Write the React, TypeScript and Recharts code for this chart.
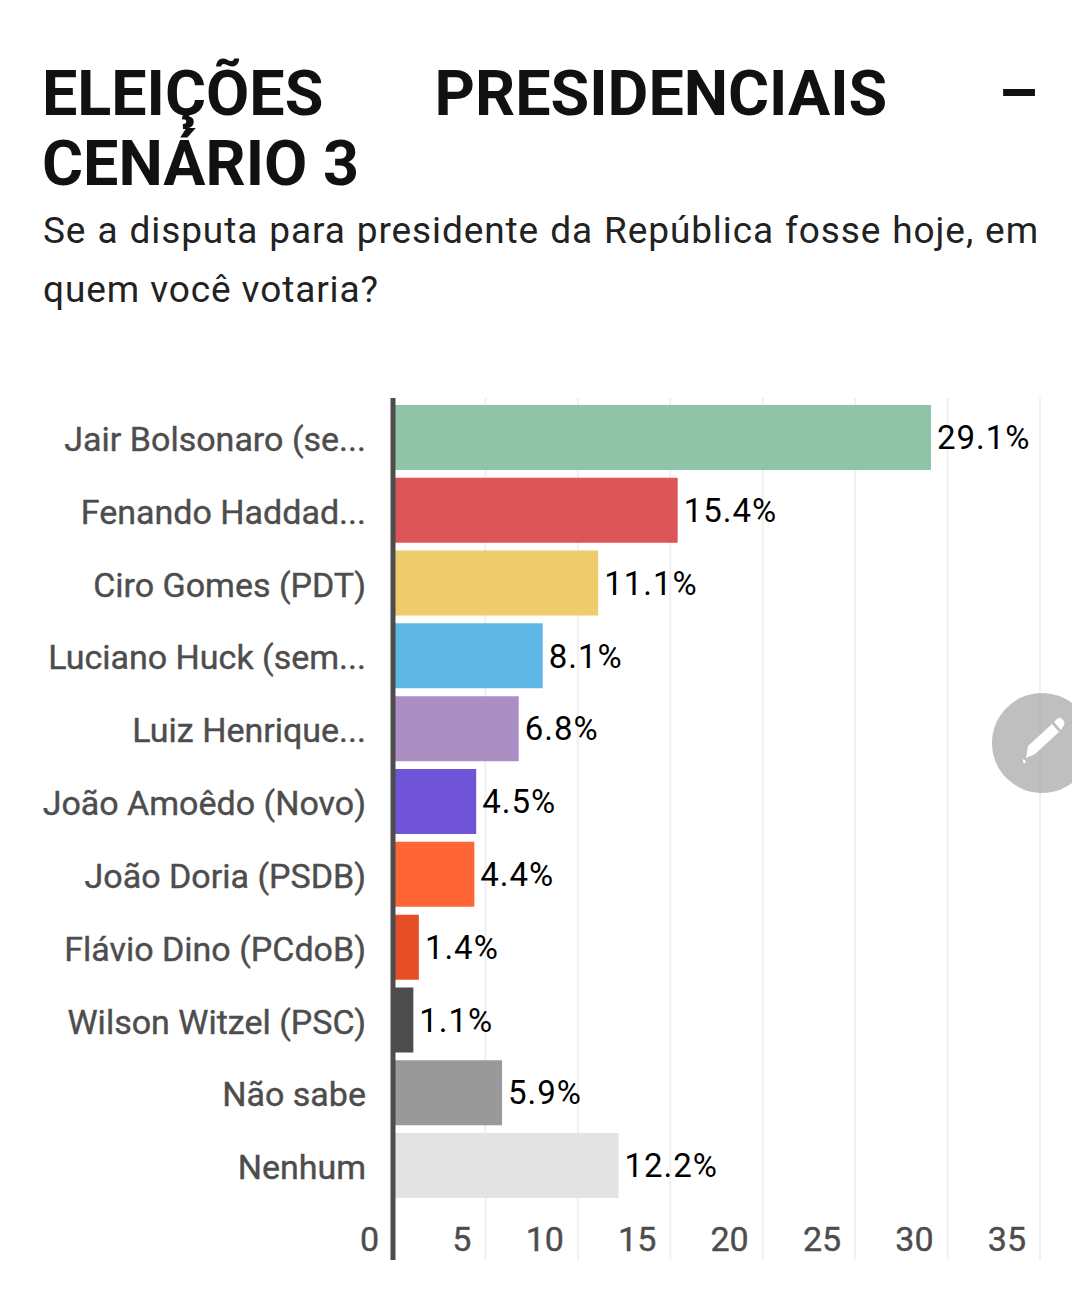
import { BarChart, Bar, XAxis, YAxis, CartesianGrid, Cell, LabelList, ReferenceLine } from 'recharts';

const categories = [
  'Jair Bolsonaro (se...',
  'Fenando Haddad...',
  'Ciro Gomes (PDT)',
  'Luciano Huck (sem...',
  'Luiz Henrique...',
  'João Amoêdo (Novo)',
  'João Doria (PSDB)',
  'Flávio Dino (PCdoB)',
  'Wilson Witzel (PSC)',
  'Não sabe',
  'Nenhum',
];
const values = [29.1, 15.4, 11.1, 8.1, 6.8, 4.5, 4.4, 1.4, 1.1, 5.9, 12.2];
const colors = ['#8fc4a8', '#dc5558', '#eecb6b', '#5fb7e5', '#ab8fc4', '#6f54d8', '#ff6535', '#e64f25', '#4d4d4d', '#999999', '#e3e3e3'];
const xTicks = [0, 5, 10, 15, 20, 25, 30, 35];

const data = categories.map((name, i) => ({ name, value: values[i] }));
const font = 'Roboto, sans-serif';

// tick labels sit left of their gridline, inside the plot
function XTick({ x, y, payload }: any) {
  return (
    <text x={x - 14} y={y - 9} textAnchor="end" fill="#4d4d4d" stroke="#4d4d4d" strokeWidth={0.4} fontSize={34} fontFamily={font}>
      {payload.value}
    </text>
  );
}

export default function App() {
  return (
    <div style={{ position: 'relative', width: 1072, height: 1310, background: '#fff', fontFamily: font, overflow: 'hidden' }}>
      <style>{'body { margin: 0; }'}</style>
      <div style={{ position: 'absolute', left: 42, top: 59, width: 996, fontSize: 62.8, lineHeight: '70px', fontWeight: 700, color: '#111', textAlign: 'justify' }}>
        ELEIÇÕES PRESIDENCIAIS – CENÁRIO 3
      </div>
      <div style={{ position: 'absolute', left: 43, top: 201, width: 996, fontSize: 37, lineHeight: '59px', color: '#222', letterSpacing: 0.9, textAlign: 'justify' }}>
        Se a disputa para presidente da República fosse hoje, em quem você votaria?
      </div>
      <div style={{ position: 'absolute', left: 0, top: 390 }}>
        <BarChart width={1072} height={890} data={data} layout="vertical" margin={{ top: 8, right: 32, bottom: 0, left: 0 }} barCategoryGap={3.9}>
          <CartesianGrid horizontal={false} stroke="#f0f0f0" strokeWidth={2} />
          <XAxis type="number" domain={[0, 35]} ticks={xTicks} height={20} axisLine={false} tickLine={false} tickMargin={0} tickSize={0} tick={<XTick />} interval={0} />
          <YAxis type="category" dataKey="name" width={393} axisLine={false} tickLine={false} interval={0} padding={{ top: 3, bottom: 58 }}
            tick={{ fill: '#4d4d4d', stroke: '#4d4d4d', strokeWidth: 0.4, fontSize: 34, fontFamily: font, dy: 1.5 }} tickMargin={21} />
          <Bar dataKey="value" isAnimationActive={false}>
            {data.map((d, i) => <Cell key={d.name} fill={colors[i]} />)}
            <LabelList dataKey="value" position="right" offset={6} formatter={(v: number) => `${v}%`}
              style={{ fill: '#000', fontSize: 33, fontFamily: font, letterSpacing: 1 }} />
          </Bar>
          <ReferenceLine x={0} stroke="#4d4d4d" strokeWidth={5} />
        </BarChart>
      </div>
      <svg style={{ position: 'absolute', left: 992, top: 693 }} width={100} height={100} viewBox="0 0 100 100">
        <circle cx={50} cy={50} r={50} fill="rgba(170,170,170,0.75)" />
        <path d="M36 53 L60 31 L67 39 L43 61 L34 65 Z M62 29 L66 25 Q68 24 70 26 L72 28 Q73 30 72 32 L69 37 Z M31 66 L34 68 L33 70 Q31 71 31 69 Z" fill="#fff" />
      </svg>
    </div>
  );
}
